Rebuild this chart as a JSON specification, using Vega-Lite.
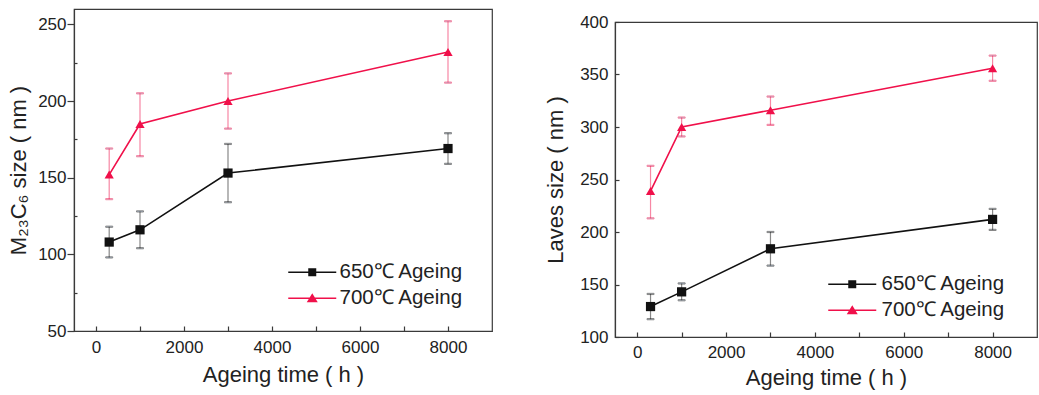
{
  "$schema": "https://vega.github.io/schema/vega-lite/v6.json",
  "background": "white",
  "padding": {"left": 7, "top": 8, "right": 2, "bottom": 2},
  "spacing": 51,
  "config": {
    "font": "Liberation Sans",
    "concat": {"spacing": 2},
    "view": {"stroke": "#3a3a3a", "strokeWidth": 1.2},
    "axis": {"grid": false, "domainColor": "#3a3a3a", "domainWidth": 1.2, "tickColor": "#3a3a3a", "tickWidth": 1.2, "labelFont": "Liberation Sans", "labelFontSize": 17, "labelColor": "#222", "titleFont": "Liberation Sans", "titleFontSize": 22, "titleFontWeight": "normal", "titleColor": "#222"},
    "legend": {"labelFont": "Liberation Sans", "labelFontSize": 20.5, "labelColor": "#222"}
  },
  "datasets": {
    "m23": [
      {"t": 300, "size": 108, "lo": 98, "hi": 118, "series": "650℃ Ageing"},
      {"t": 1000, "size": 116, "lo": 104, "hi": 128, "series": "650℃ Ageing"},
      {"t": 3000, "size": 153, "lo": 134, "hi": 172, "series": "650℃ Ageing"},
      {"t": 8000, "size": 169, "lo": 159, "hi": 179, "series": "650℃ Ageing"},
      {"t": 300, "size": 152, "lo": 136, "hi": 169, "series": "700℃ Ageing"},
      {"t": 1000, "size": 185, "lo": 164, "hi": 205, "series": "700℃ Ageing"},
      {"t": 3000, "size": 200, "lo": 182, "hi": 218, "series": "700℃ Ageing"},
      {"t": 8000, "size": 232, "lo": 212, "hi": 252, "series": "700℃ Ageing"}
    ],
    "laves": [
      {"t": 300, "size": 129, "lo": 117, "hi": 141, "series": "650℃ Ageing"},
      {"t": 1000, "size": 143, "lo": 135, "hi": 151, "series": "650℃ Ageing"},
      {"t": 3000, "size": 184, "lo": 168, "hi": 200, "series": "650℃ Ageing"},
      {"t": 8000, "size": 212, "lo": 202, "hi": 222, "series": "650℃ Ageing"},
      {"t": 300, "size": 239, "lo": 213, "hi": 263, "series": "700℃ Ageing"},
      {"t": 1000, "size": 300, "lo": 291, "hi": 309, "series": "700℃ Ageing"},
      {"t": 3000, "size": 316, "lo": 302, "hi": 329, "series": "700℃ Ageing"},
      {"t": 8000, "size": 356, "lo": 344, "hi": 368, "series": "700℃ Ageing"}
    ]
  },
  "hconcat": [
    {
      "width": 418,
      "height": 322,
      "data": {"name": "m23"},
      "encoding": {
        "x": {"field": "t", "type": "quantitative", "scale": {"domain": [-500, 9000], "nice": false, "zero": false},
          "axis": {"title": "Ageing time ( h )", "values": [0, 1000, 2000, 3000, 4000, 5000, 6000, 7000, 8000], "format": "d", "labelExpr": "datum.value % 2000 === 0 ? datum.label : ''", "tickSize": -5, "labelPadding": 13, "titlePadding": 9}}
      },
      "layer": [
        {
          "mark": {"type": "rule", "opacity": 0.5, "strokeWidth": 1.2},
          "encoding": {
            "y": {"field": "lo", "type": "quantitative", "scale": {"domain": [50, 260], "nice": false, "zero": false},
              "axis": {"title": "M₂₃C₆ size ( nm )", "values": [50, 75, 100, 125, 150, 175, 200, 225, 250], "labelExpr": "datum.value % 50 === 0 ? datum.label : ''", "tickSize": {"condition": {"test": "datum.value % 50 === 0", "value": 7}, "value": -3}, "labelPadding": 1, "titlePadding": 7}},
            "y2": {"field": "hi"},
            "stroke": {"field": "series", "type": "nominal", "scale": {"domain": ["650℃ Ageing", "700℃ Ageing"], "range": ["#111111", "#f0104a"]}, "legend": null}
          }
        },
        {
          "mark": {"type": "tick", "orient": "horizontal", "size": 7, "thickness": 1.2, "opacity": 0.5},
          "encoding": {
            "y": {"field": "lo", "type": "quantitative"},
            "stroke": {"field": "series", "type": "nominal", "legend": null}
          }
        },
        {
          "mark": {"type": "tick", "orient": "horizontal", "size": 7, "thickness": 1.2, "opacity": 0.5},
          "encoding": {
            "y": {"field": "hi", "type": "quantitative"},
            "stroke": {"field": "series", "type": "nominal", "legend": null}
          }
        },
        {
          "mark": {"type": "line", "strokeWidth": 1.6},
          "encoding": {
            "y": {"field": "size", "type": "quantitative"},
            "stroke": {"field": "series", "type": "nominal", "legend": null}
          }
        },
        {
          "mark": {"type": "point", "filled": true, "opacity": 1, "size": 85},
          "encoding": {
            "y": {"field": "size", "type": "quantitative"},
            "fill": {"field": "series", "type": "nominal", "scale": {"domain": ["650℃ Ageing", "700℃ Ageing"], "range": ["#111111", "#f0104a"]}, "legend": null},
            "shape": {"field": "series", "type": "nominal", "scale": {"domain": ["650℃ Ageing", "700℃ Ageing"], "range": ["square", "triangle-up"]}, "legend": null}
          }
        },
        {
          "mark": {"type": "point", "filled": true, "size": 0},
          "encoding": {
            "y": {"field": "size", "type": "quantitative"},
            "color": {"field": "series", "type": "nominal", "scale": {"domain": ["650℃ Ageing", "700℃ Ageing"], "range": ["#111111", "#f0104a"]},
              "legend": {"title": null, "orient": "none", "legendX": 228, "legendY": 253, "symbolSize": 100, "symbolOpacity": 1, "labelOffset": 17, "rowPadding": 5, "padding": 0}},
            "shape": {"field": "series", "type": "nominal", "scale": {"domain": ["650℃ Ageing", "700℃ Ageing"], "range": ["M-4.8,-0.15H4.8V0.15H-4.8Z M-0.8,-0.8H0.8V0.8H-0.8Z", "M-4.8,-0.15H4.8V0.15H-4.8Z M0,-1L1.1,0.8L-1.1,0.8Z"]},
              "legend": {"title": null, "orient": "none", "legendX": 228, "legendY": 253, "symbolSize": 100, "symbolOpacity": 1, "labelOffset": 17, "rowPadding": 5, "padding": 0}}
          }
        }
      ],
      "resolve": {"scale": {"shape": "independent", "color": "independent"}}
    },
    {
      "vconcat": [
        {
          "width": 422,
          "height": 1,
          "data": {"values": []},
          "view": {"stroke": null},
          "mark": {"type": "point"},
          "encoding": {}
        },
        {
          "width": 422,
          "height": 315,
          "data": {"name": "laves"},
          "encoding": {
            "x": {"field": "t", "type": "quantitative", "scale": {"domain": [-500, 9000], "nice": false, "zero": false},
              "axis": {"title": "Ageing time ( h )", "values": [0, 1000, 2000, 3000, 4000, 5000, 6000, 7000, 8000], "format": "d", "labelExpr": "datum.value % 2000 === 0 ? datum.label : ''", "tickSize": -5, "labelPadding": 12, "titlePadding": 7}}
          },
          "layer": [
            {
              "mark": {"type": "rule", "opacity": 0.5, "strokeWidth": 1.2},
              "encoding": {
                "y": {"field": "lo", "type": "quantitative", "scale": {"domain": [100, 400], "nice": false, "zero": false},
                  "axis": {"title": "Laves size ( nm )", "values": [100, 125, 150, 175, 200, 225, 250, 275, 300, 325, 350, 375, 400], "labelExpr": "datum.value % 50 === 0 ? datum.label : ''", "tickSize": -4, "labelPadding": 11, "titlePadding": 12}},
                "y2": {"field": "hi"},
                "stroke": {"field": "series", "type": "nominal", "scale": {"domain": ["650℃ Ageing", "700℃ Ageing"], "range": ["#111111", "#f0104a"]}, "legend": null}
              }
            },
            {
              "mark": {"type": "tick", "orient": "horizontal", "size": 7, "thickness": 1.2, "opacity": 0.5},
              "encoding": {
                "y": {"field": "lo", "type": "quantitative"},
                "stroke": {"field": "series", "type": "nominal", "legend": null}
              }
            },
            {
              "mark": {"type": "tick", "orient": "horizontal", "size": 7, "thickness": 1.2, "opacity": 0.5},
              "encoding": {
                "y": {"field": "hi", "type": "quantitative"},
                "stroke": {"field": "series", "type": "nominal", "legend": null}
              }
            },
            {
              "mark": {"type": "line", "strokeWidth": 1.6},
              "encoding": {
                "y": {"field": "size", "type": "quantitative"},
                "stroke": {"field": "series", "type": "nominal", "legend": null}
              }
            },
            {
              "mark": {"type": "point", "filled": true, "opacity": 1, "size": 85},
              "encoding": {
                "y": {"field": "size", "type": "quantitative"},
                "fill": {"field": "series", "type": "nominal", "scale": {"domain": ["650℃ Ageing", "700℃ Ageing"], "range": ["#111111", "#f0104a"]}, "legend": null},
                "shape": {"field": "series", "type": "nominal", "scale": {"domain": ["650℃ Ageing", "700℃ Ageing"], "range": ["square", "triangle-up"]}, "legend": null}
              }
            },
            {
              "mark": {"type": "point", "filled": true, "size": 0},
              "encoding": {
                "y": {"field": "size", "type": "quantitative"},
                "color": {"field": "series", "type": "nominal", "scale": {"domain": ["650℃ Ageing", "700℃ Ageing"], "range": ["#111111", "#f0104a"]},
                  "legend": {"title": null, "orient": "none", "legendX": 227, "legendY": 252, "symbolSize": 100, "symbolOpacity": 1, "labelOffset": 19, "rowPadding": 5, "padding": 0}},
                "shape": {"field": "series", "type": "nominal", "scale": {"domain": ["650℃ Ageing", "700℃ Ageing"], "range": ["M-4.8,-0.15H4.8V0.15H-4.8Z M-0.8,-0.8H0.8V0.8H-0.8Z", "M-4.8,-0.15H4.8V0.15H-4.8Z M0,-1L1.1,0.8L-1.1,0.8Z"]},
                  "legend": {"title": null, "orient": "none", "legendX": 227, "legendY": 252, "symbolSize": 100, "symbolOpacity": 1, "labelOffset": 19, "rowPadding": 5, "padding": 0}}
              }
            }
          ],
          "resolve": {"scale": {"shape": "independent", "color": "independent"}}
        }
      ]
    }
  ]
}
